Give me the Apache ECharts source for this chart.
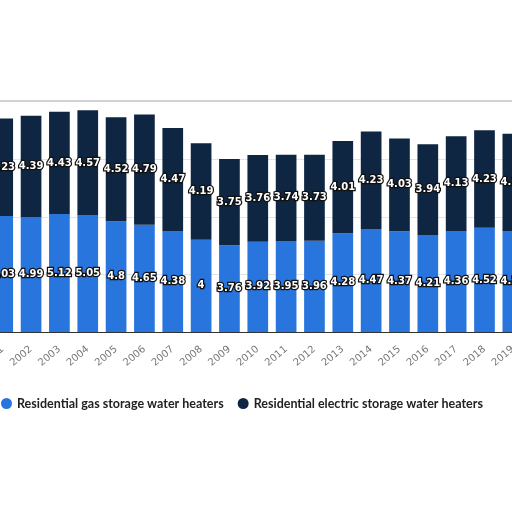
<!DOCTYPE html>
<html>
<head>
<meta charset="utf-8">
<script src="https://cdn.jsdelivr.net/npm/echarts@6/dist/echarts.min.js"></script>
<style>html,body{margin:0;padding:0;background:#fff;overflow:hidden;width:512px;height:512px;position:relative;}#c{position:absolute;left:-22px;top:0;width:549px;height:512px;}</style>
</head>
<body>
<div id="c"></div>
<script>
var years = ['2001','2002','2003','2004','2005','2006','2007','2008','2009','2010','2011','2012','2013','2014','2015','2016','2017','2018','2019'];
var gasValues = [5.03, 4.99, 5.12, 5.05, 4.8, 4.65, 4.38, 4, 3.76, 3.92, 3.95, 3.96, 4.28, 4.47, 4.37, 4.21, 4.36, 4.52, 4.38];
var electricValues = [4.23, 4.39, 4.43, 4.57, 4.52, 4.79, 4.47, 4.19, 3.75, 3.76, 3.74, 3.73, 4.01, 4.23, 4.03, 3.94, 4.13, 4.23, 4.22];
var seriesNames = ['Residential gas storage water heaters', 'Residential electric storage water heaters'];

var chart = echarts.init(document.getElementById('c'));
var labelStyle = {
  show: true,
  position: 'inside',
  color: '#fff',
  fontFamily: 'DejaVu Sans',
  fontWeight: 'bold',
  fontSize: 10,
  textBorderColor: '#111',
  textBorderWidth: 2.5
};
chart.setOption({
  animation: false,
  backgroundColor: '#fff',
  grid: { left: 0, right: 0, top: 101.5, bottom: 180, containLabel: false },
  legend: {
    left: 18, top: 392,
    icon: 'circle', itemWidth: 11, itemHeight: 11, itemGap: 14,
    textStyle: { fontFamily: 'Lato', fontSize: 12.5, color: '#222', fontWeight: 'bold' },
    data: seriesNames
  },
  xAxis: {
    type: 'category',
    data: years,
    axisLine: { lineStyle: { color: '#333', width: 1 } },
    axisTick: { show: false },
    axisLabel: { rotate: 40, color: '#777', fontFamily: 'DejaVu Sans', fontSize: 10, margin: 16 }
  },
  yAxis: {
    type: 'value', min: 0, max: 10, interval: 2.5,
    axisLabel: { show: false }, axisLine: { show: false }, axisTick: { show: false },
    splitLine: { lineStyle: { color: '#c8c8c8', type: 'dotted' } }
  },
  graphic: [{
    type: 'rect', shape: { x: 0, y: 100, width: 549, height: 2 },
    style: { fill: '#d2d2d2' }, z: 100
  }],
  series: [
    { name: seriesNames[0], type: 'bar', stack: 'a', data: gasValues, barCategoryGap: '27%',
      itemStyle: { color: '#2876dd' }, label: labelStyle },
    { name: seriesNames[1], type: 'bar', stack: 'a', data: electricValues, barCategoryGap: '27%',
      itemStyle: { color: '#0f2642' }, label: labelStyle }
  ]
});
</script>
</body>
</html>
